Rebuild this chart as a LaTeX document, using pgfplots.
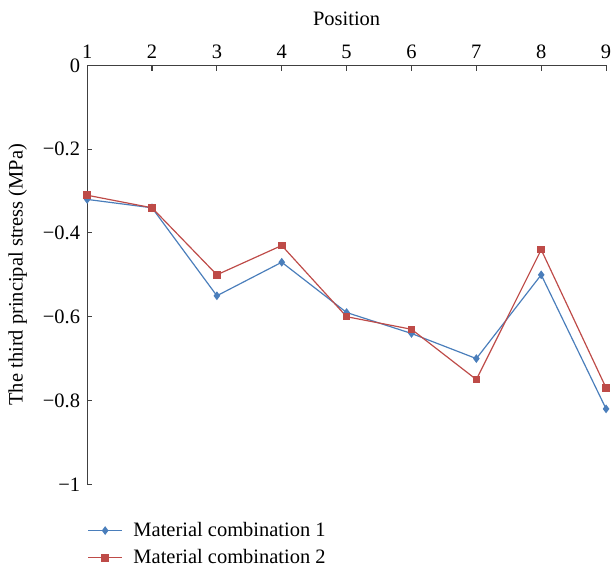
\documentclass[border=0pt]{standalone}
\usepackage{fontspec}
\setmainfont{Liberation Serif}
\usepackage{pgfplots}
\pgfplotsset{compat=1.18}
\usetikzlibrary{calc}
\definecolor{cblue}{RGB}{74,126,187}
\definecolor{cred}{RGB}{190,75,72}
\definecolor{axgray}{RGB}{64,64,64}
\begin{document}
\fontsize{15.5}{18}\selectfont
\begin{tikzpicture}
\begin{axis}[
  scale only axis,
  width=393pt, height=317.25pt,
  xmin=1, xmax=9, ymin=-1, ymax=0,
  axis x line*=top, axis y line*=left,
  axis line style={axgray, line width=0.9pt},
  xtick={1,...,9},
  ytick={-1,-0.8,-0.6,-0.4,-0.2,0},
  yticklabels={−1,−0.8,−0.6,−0.4,−0.2,0},
  tick style={axgray, line width=0.8pt},
  tick align=inside,
  major tick length=4pt,
  /pgf/number format/assume math mode=true,
  ticklabel style={font=\fontsize{15.5}{18}\selectfont},
  xlabel={Position},
  ylabel={The third principal stress (MPa)},
  label style={font=\fontsize{15.5}{18}\selectfont},
  ylabel style={at={(axis description cs:-0.1336,0.5)}, anchor=center, rotate=0},
  xlabel style={yshift=4pt},
  clip=false,
  legend style={at={(axis description cs:0,-0.083)}, anchor=north west, draw=none, fill=none,
    font=\fontsize{15.5}{18}\selectfont, row sep=3.5pt, inner sep=0pt,
    /tikz/every odd column/.append style={column sep=6pt}},
  legend cell align=left,
  legend image code/.code={\draw[#1] (0pt,0pt) -- (13pt,0pt); \draw[#1,mark repeat=2,mark phase=2] plot coordinates {(0pt,0pt) (13pt,0pt) (26pt,0pt)}; \draw[#1] (13pt,0pt) -- (26pt,0pt);},
]
\addplot[cblue, line width=0.9pt, mark=diamond*, mark size=2.6pt, mark options={fill=cblue, draw=cblue}] coordinates {
(1,-0.32) (2,-0.34) (3,-0.55) (4,-0.47) (5,-0.59) (6,-0.64) (7,-0.70) (8,-0.50) (9,-0.82)};
\addlegendentry{Material combination 1}
\addplot[cred, line width=0.9pt, mark=square*, mark size=2.4pt, mark options={fill=cred, draw=cred}] coordinates {
(1,-0.31) (2,-0.34) (3,-0.50) (4,-0.43) (5,-0.60) (6,-0.63) (7,-0.75) (8,-0.44) (9,-0.77)};
\addlegendentry{Material combination 2}
\end{axis}
\pgfresetboundingbox
\path ($(current axis.south west)+(-66pt,-64.5pt)$) rectangle ($(current axis.north east)+(6pt,49.5pt)$);
\end{tikzpicture}
\end{document}
